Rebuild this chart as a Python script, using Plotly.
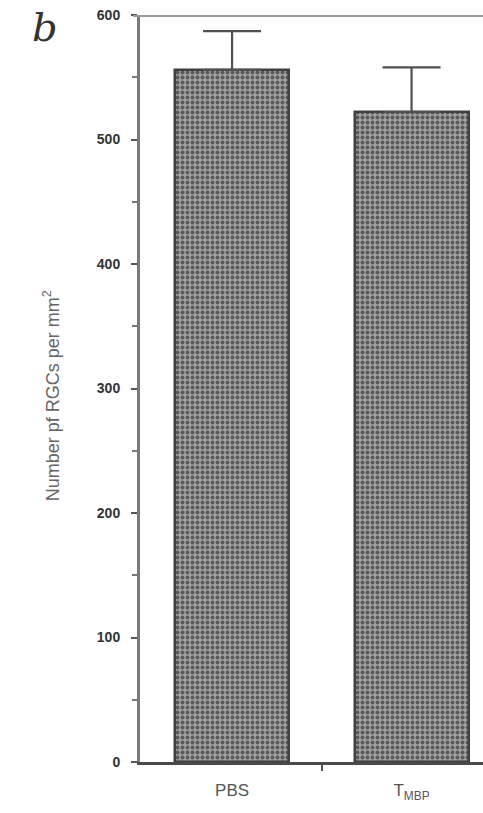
import plotly.graph_objects as go

categories = ["PBS", "T<sub>MBP</sub>"]
values = [556, 522]
errors = [31, 36]
y_ticks = [0, 100, 200, 300, 400, 500, 600]

xpos = list(range(len(categories)))

fig = go.Figure()
fig.add_trace(go.Bar(
    x=xpos, y=values, width=0.635,
    marker=dict(color="#8a8a8a",
                line=dict(color="#404040", width=2.5),
                pattern=dict(shape=".", fgcolor="#5a5a5a", bgcolor="#a0a0a0",
                             size=5, solidity=0.45, fillmode="replace")),
    error_y=dict(type="data", array=errors, arrayminus=[0]*len(errors),
                 symmetric=False, color="#505050", thickness=2.2, width=29),
    showlegend=False,
))

fig.update_layout(
    width=483, height=813,
    margin=dict(l=140, r=0, t=15, b=51),
    paper_bgcolor="white", plot_bgcolor="white",
    bargap=0,
    xaxis=dict(range=[-0.513, 1.398], tickvals=xpos, ticktext=categories,
               showline=True, linecolor="#4a4a4a", linewidth=2.5,
               ticks="", showgrid=False, zeroline=False,
               ticklabelstandoff=11,
               tickfont=dict(family="Arial, Liberation Sans", size=17, color="#555555"),
               minor=dict(tickvals=[0.5], ticks="outside", ticklen=6,
                          tickcolor="#555555", tickwidth=1.5)),
    yaxis=dict(range=[0, 600], tickvals=y_ticks,
               showline=True, linecolor="#7a7a7a", linewidth=3,
               ticks="outside", ticklen=6, tickcolor="#555555", tickwidth=2,
               showgrid=False, zeroline=False,
               ticklabelstandoff=8,
               tickfont=dict(family="Arial, Liberation Sans", size=14,
                             color="#333333", weight="bold"),
               minor=dict(dtick=50, ticks="outside", ticklen=5,
                          tickcolor="#777777", tickwidth=1.5, showgrid=False)),
)

# top frame line
fig.add_shape(type="line", xref="paper", yref="y", x0=-0.02, x1=1, y0=600, y1=600,
              line=dict(color="#9a9a9a", width=4))

fig.add_annotation(text="Number pf RGCs per mm<sup>2</sup>", textangle=-90,
                   xref="paper", yref="paper", x=-0.295, y=0.49,
                   showarrow=False,
                   font=dict(family="Arial, Liberation Sans", size=18, color="#666666"))

fig.add_annotation(text="<i>b</i>", xref="paper", yref="paper", x=-0.32, y=1.017,
                   yanchor="top", showarrow=False,
                   font=dict(family="DejaVu Serif, Liberation Serif", size=40, color="#333333"))

fig.write_html("out.html")
